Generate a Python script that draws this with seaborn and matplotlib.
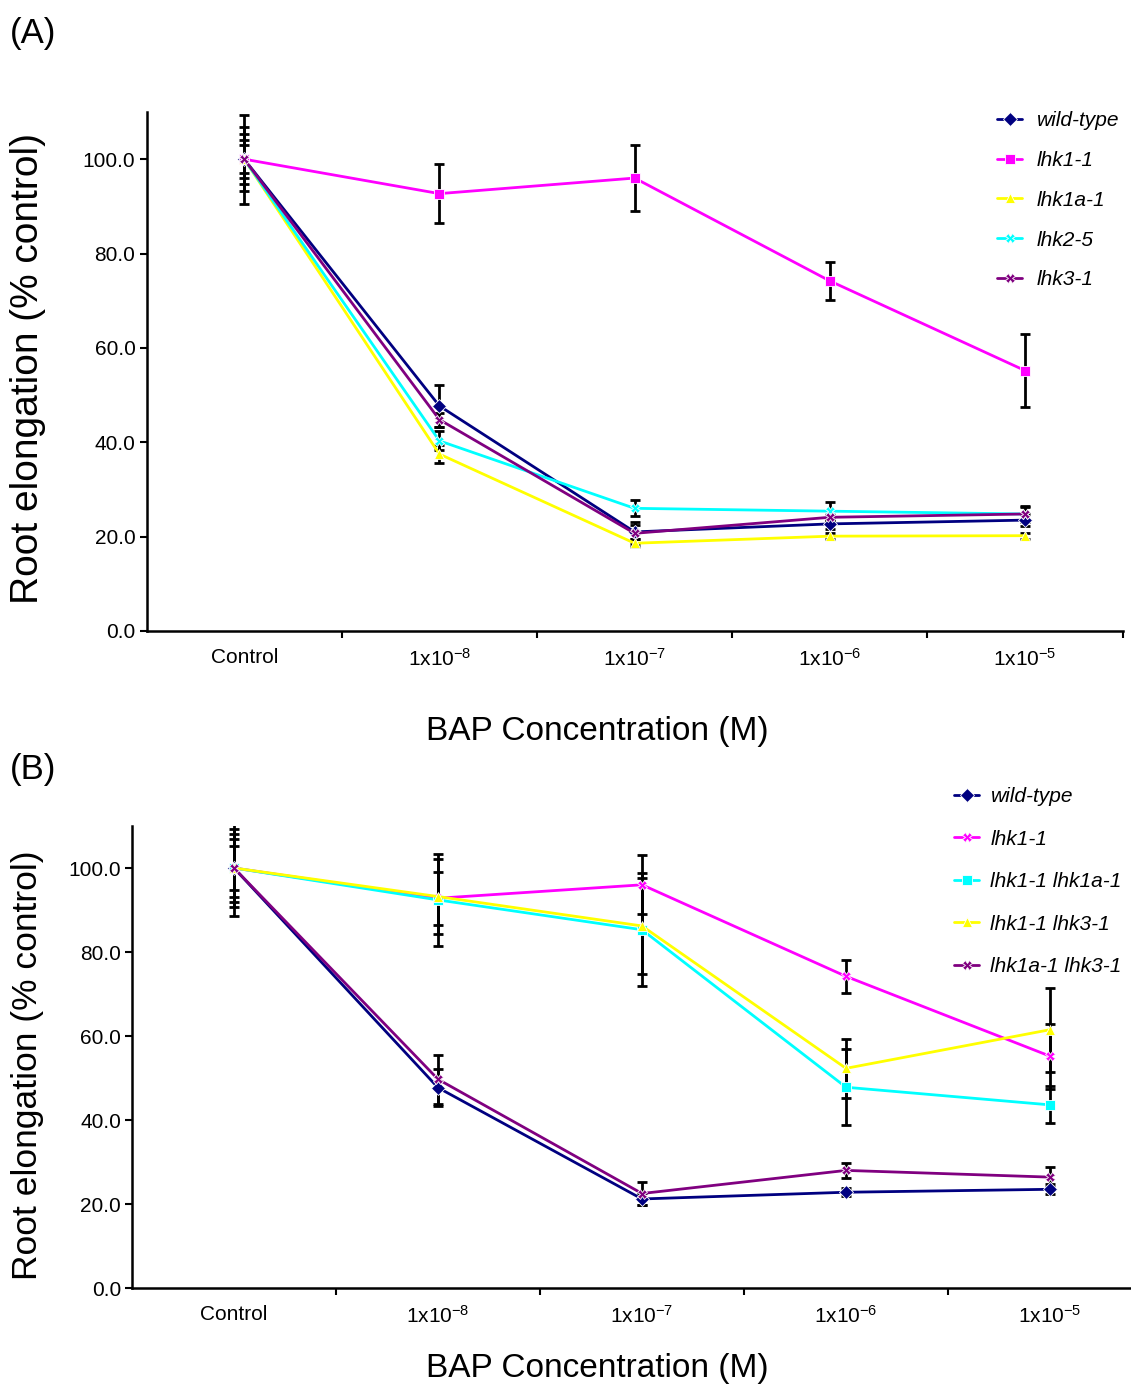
import numpy as np
import pandas as pd
import matplotlib
matplotlib.use("Agg")
import matplotlib.pyplot as plt
import seaborn as sns

# doses (categorical x axis)
doses = ["Control", "1x10$^{-8}$", "1x10$^{-7}$", "1x10$^{-6}$", "1x10$^{-5}$"]

# --- panel A: single mutants ---
names_a = ["wild-type", "lhk1-1", "lhk1a-1", "lhk2-5", "lhk3-1"]
wt_a = [100.0, 47.7, 21.0, 22.7, 23.5]
lhk1_a = [100.0, 92.7, 96.0, 74.2, 55.2]
lhk1a_a = [100.0, 37.5, 18.6, 20.1, 20.2]
lhk25_a = [100.0, 40.3, 26.0, 25.4, 24.8]
lhk3_a = [100.0, 44.8, 20.7, 24.1, 24.8]
wt_a_err = [6.8, 4.4, 1.5, 1.1, 1.3]
lhk1_a_err = [9.4, 6.3, 7.0, 4.0, 7.7]
lhk1a_a_err = [4.0, 1.9, 0.8, 0.6, 0.6]
lhk25_a_err = [5.3, 2.0, 1.7, 2.0, 1.7]
lhk3_a_err = [3.0, 1.5, 2.3, 0.8, 1.5]

# --- panel B: double mutants ---
names_b = ["wild-type", "lhk1-1", "lhk1-1 lhk1a-1", "lhk1-1 lhk3-1", "lhk1a-1 lhk3-1"]
wt_b = [100.0, 47.7, 21.2, 22.8, 23.5]
lhk1_b = [100.0, 92.8, 96.0, 74.2, 55.2]
lhk1_1a_b = [100.0, 92.4, 85.3, 47.8, 43.6]
lhk1_3_b = [100.0, 93.2, 86.2, 52.3, 61.5]
lhk1a_3_b = [100.0, 49.7, 22.5, 28.0, 26.4]
wt_b_err = [6.8, 4.4, 1.5, 1.0, 1.2]
lhk1_b_err = [9.4, 6.3, 7.0, 4.0, 7.7]
lhk1_1a_b_err = [11.5, 11.0, 13.5, 9.0, 4.4]
lhk1_3_b_err = [8.0, 9.0, 11.5, 7.0, 10.0]
lhk1a_3_b_err = [5.3, 5.8, 2.8, 1.8, 2.4]

colors_a = ["#000080", "#FF00FF", "#FFFF00", "#00FFFF", "#800080"]
markers_a = ["D", "s", "^", "X", "X"]
colors_b = ["#000080", "#FF00FF", "#00FFFF", "#FFFF00", "#800080"]
markers_b = ["D", "X", "s", "^", "X"]

sns.set_style("ticks")
plt.rcParams['font.family'] = ['Liberation Sans', 'DejaVu Sans']
plt.rcParams['mathtext.fontset'] = 'custom'
plt.rcParams['mathtext.rm'] = 'Liberation Sans'
plt.rcParams['mathtext.it'] = 'Liberation Sans:italic'
for key in ['text.color', 'axes.labelcolor', 'xtick.color', 'ytick.color', 'axes.edgecolor']:
    plt.rcParams[key] = 'black'


def draw_panel(ax, names, series, errs, colors, markers, legend_anchor, ylab_size,
               spacing, textpad):
    rows = []
    for name, vals in zip(names, series):
        for i, v in enumerate(vals):
            rows.append({"dose": i, "value": v, "line": name})
    df = pd.DataFrame(rows)

    for name, vals, err in zip(names, series, errs):
        ax.errorbar(range(len(doses)), vals, yerr=err, fmt='none', ecolor='black',
                    elinewidth=2, capsize=3.5, capthick=2, zorder=1.5)

    sns.lineplot(data=df, x="dose", y="value", hue="line", style="line",
                 palette=dict(zip(names, colors)), markers=dict(zip(names, markers)),
                 dashes=False, linewidth=2, markersize=7, markeredgecolor='white',
                 markeredgewidth=0.6, ax=ax, legend=True)

    ax.set_xlim(-0.5, 4.5)
    ax.set_ylim(0, 110)
    ax.set_yticks(np.arange(0, 101, 20))
    ax.set_yticklabels([f"{t:.1f}" for t in np.arange(0, 101, 20)], fontsize=15)
    ax.set_xticks(range(len(doses)))
    ax.set_xticklabels(doses, fontsize=15)
    ax.set_xticks(np.arange(0.5, 5.0, 1.0), minor=True)
    ax.tick_params(axis='x', which='major', length=0, pad=12)
    ax.tick_params(axis='x', which='minor', length=5, width=1.5, direction='out')
    ax.tick_params(axis='y', length=5, width=1.5, pad=3)
    for s in ["left", "bottom"]:
        ax.spines[s].set_linewidth(1.8)
    sns.despine(ax=ax)

    ax.set_xlabel("BAP Concentration (M)", fontsize=24)
    ax.set_ylabel("Root elongation (% control)", fontsize=ylab_size)

    handles, labels = ax.get_legend_handles_labels()
    ax.legend(handles, labels, loc='upper left', bbox_to_anchor=legend_anchor,
              bbox_transform=ax.figure.transFigure, frameon=False,
              prop={'style': 'italic', 'size': 15}, handlelength=1.2,
              handletextpad=textpad, labelspacing=spacing, borderaxespad=0,
              borderpad=0)


fig = plt.figure(figsize=(11.31, 13.87), dpi=100)
W, H = 1131, 1387

ax_a = fig.add_axes([146.6 / W, 1 - 631 / H, 976 / W, 519 / H])
draw_panel(ax_a, names_a, [wt_a, lhk1_a, lhk1a_a, lhk25_a, lhk3_a],
           [wt_a_err, lhk1_a_err, lhk1a_a_err, lhk25_a_err, lhk3_a_err],
           colors_a, markers_a, (997 / W, 1 - 111 / H), 28, 1.0, 0.7)
ax_a.xaxis.set_label_coords((597 - 146.6) / 976, -(716 - 631) / 519)
ax_a.yaxis.set_label_coords((46 - 146.6) / 976, (631 - 368) / 519)

ax_b = fig.add_axes([132 / W, 1 - 1288 / H, 1020 / W, 462 / H])
draw_panel(ax_b, names_b, [wt_b, lhk1_b, lhk1_1a_b, lhk1_3_b, lhk1a_3_b],
           [wt_b_err, lhk1_b_err, lhk1_1a_b_err, lhk1_3_b_err, lhk1a_3_b_err],
           colors_b, markers_b, (954 / W, 1 - 787 / H), 25.5, 1.13, 0.55)
ax_b.xaxis.set_label_coords((597 - 132) / 1020, -(1353 - 1288) / 462)
ax_b.yaxis.set_label_coords((44 - 132) / 1020, (1288 - 1065) / 462)

fig.text(10 / W, 1 - 33 / H, "(A)", fontsize=25, va='center', ha='left')
fig.text(10 / W, 1 - 770 / H, "(B)", fontsize=25, va='center', ha='left')

fig.savefig("out.png", dpi=100)
